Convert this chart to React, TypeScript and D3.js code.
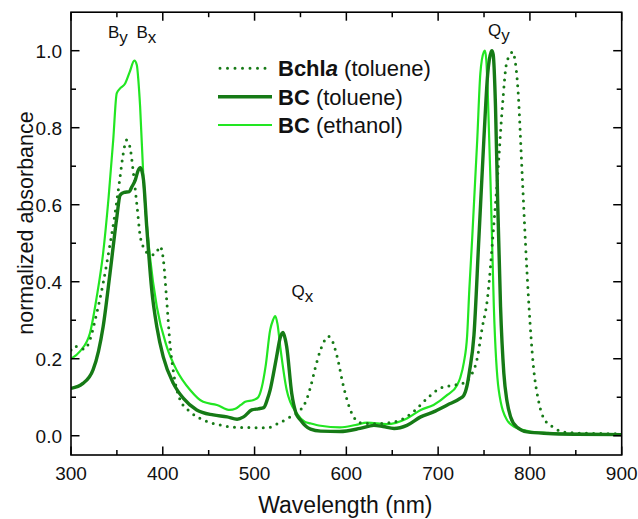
import React from "react";
import * as d3 from "d3";

// ---------- data ----------
const bchlaWl = [300, 304, 310, 315, 320, 328, 335, 342, 348, 353, 357, 360.5, 364, 368, 372, 375.5, 380, 385, 390, 394, 397, 400.5, 404, 408, 412, 419, 430, 444, 462, 480, 500, 515, 524, 539, 550, 556, 561, 566, 572, 577, 580.5, 584, 590, 597, 606, 615, 630, 644, 659, 673, 688, 702, 713, 728, 735, 742.5, 748, 753.5, 760.5, 765, 770, 774.5, 779, 781, 783, 787, 791.5, 795, 799, 803.5, 810, 819, 826, 834, 850, 870, 900];
const bchlaAbs = [0.223, 0.233, 0.226, 0.225, 0.245, 0.318, 0.396, 0.49, 0.578, 0.664, 0.734, 0.768, 0.752, 0.682, 0.595, 0.517, 0.485, 0.472, 0.47, 0.48, 0.492, 0.46, 0.36, 0.235, 0.16, 0.093, 0.062, 0.041, 0.028, 0.022, 0.021, 0.021, 0.03, 0.049, 0.067, 0.09, 0.127, 0.175, 0.224, 0.25, 0.258, 0.25, 0.205, 0.127, 0.058, 0.034, 0.031, 0.033, 0.041, 0.062, 0.097, 0.123, 0.13, 0.137, 0.153, 0.2, 0.28, 0.352, 0.543, 0.682, 0.855, 0.967, 0.991, 0.997, 0.985, 0.898, 0.682, 0.508, 0.335, 0.188, 0.084, 0.032, 0.022, 0.011, 0.007, 0.006, 0.005];

const bcTolWl = [300, 313, 324, 330, 335, 342.5, 350, 353.5, 358, 363.5, 366, 370, 373, 375.5, 377.5, 379, 382.5, 388, 393.5, 400.5, 411.5, 422.5, 437, 455, 470, 481, 488, 497, 504, 510, 514, 517, 520.5, 524, 528, 531, 533.5, 535, 540.5, 545, 550, 561, 572, 593, 615, 630, 640, 652, 666, 681, 695, 710, 724, 728, 731.5, 734, 739, 744.3, 749.8, 754, 757.8, 758.5, 760, 762.5, 765, 768, 771.6, 775, 779, 786, 797, 820, 850, 900];
const bcTolAbs = [0.123, 0.136, 0.171, 0.22, 0.283, 0.422, 0.569, 0.625, 0.632, 0.634, 0.645, 0.664, 0.688, 0.696, 0.685, 0.664, 0.543, 0.378, 0.283, 0.205, 0.136, 0.097, 0.067, 0.054, 0.049, 0.043, 0.049, 0.067, 0.07, 0.073, 0.095, 0.119, 0.16, 0.205, 0.255, 0.268, 0.25, 0.231, 0.11, 0.06, 0.041, 0.017, 0.012, 0.011, 0.019, 0.027, 0.024, 0.019, 0.027, 0.049, 0.062, 0.08, 0.097, 0.105, 0.13, 0.165, 0.26, 0.508, 0.768, 0.94, 0.997, 1.0, 0.99, 0.855, 0.595, 0.335, 0.162, 0.09, 0.049, 0.022, 0.01, 0.006, 0.004, 0.003];

const bcEthWl = [300, 310, 320.7, 328, 335, 341, 346, 349.8, 353.5, 359, 364, 369, 371.7, 373.5, 375.3, 379, 386, 393.5, 404.4, 415, 429.8, 444, 459, 473, 479, 485, 489.8, 499, 504, 508, 512, 517, 520, 522.5, 525, 528, 535, 546, 555, 561, 572, 593, 610, 622.5, 644, 666, 681, 695, 710, 720.8, 724, 728, 731.6, 734, 737, 742.6, 746, 749.8, 751, 752.5, 754, 757.8, 760.7, 766, 775, 784, 793, 810, 850, 900];
const bcEthAbs = [0.2, 0.22, 0.267, 0.36, 0.474, 0.62, 0.768, 0.889, 0.902, 0.915, 0.945, 0.974, 0.963, 0.92, 0.855, 0.664, 0.465, 0.335, 0.231, 0.171, 0.119, 0.088, 0.08, 0.067, 0.07, 0.08, 0.088, 0.093, 0.1, 0.127, 0.18, 0.275, 0.3, 0.311, 0.29, 0.231, 0.119, 0.058, 0.036, 0.032, 0.026, 0.022, 0.028, 0.034, 0.03, 0.045, 0.067, 0.08, 0.106, 0.132, 0.15, 0.19, 0.26, 0.38, 0.508, 0.768, 0.941, 0.997, 1.0, 0.975, 0.898, 0.595, 0.335, 0.119, 0.041, 0.022, 0.015, 0.008, 0.005, 0.004];

const xMajorTicks = [300, 400, 500, 600, 700, 800, 900];
const xMinorTicks = [350, 450, 550, 650, 750, 850];
const yMajorTicks = [0.0, 0.2, 0.4, 0.6, 0.8, 1.0];
const yMinorTicks = [0.1, 0.3, 0.5, 0.7, 0.9];

const seriesNames = ["Bchla (toluene)", "BC (toluene)", "BC (ethanol)"];

// ---------- layout ----------
const W = 638, H = 519;
const left = 71, right = 621.7, top = 12.2, bottom = 455;
const DARK = "#167a16";
const LIGHT = "#22e622";
const FONT = "Liberation Sans, Arial, sans-serif";

export default function App() {
  const x = d3.scaleLinear().domain([300, 900]).range([left, right]);
  const y = d3.scaleLinear().domain([-0.05, 1.1]).range([bottom, top]);
  const line = d3
    .line<[number, number]>()
    .x((d) => x(d[0]))
    .y((d) => y(d[1]))
    .curve(d3.curveMonotoneX);
  const zip = (a: number[], b: number[]) => a.map((v, i) => [v, b[i]] as [number, number]);

  const major = 8.5, minor = 5;
  const legendRows = [68.3, 96.7, 125];
  const lf = 22;

  return (
    <svg width={W} height={H} style={{ position: "absolute", left: 0, top: 0, background: "#fff" }} fontFamily={FONT}>
      <defs>
        <clipPath id="plot">
          <rect x={left} y={top} width={right - left} height={bottom - top} />
        </clipPath>
      </defs>
      <g clipPath="url(#plot)" fill="none">
        <path d={line(zip(bcEthWl, bcEthAbs)) || ""} stroke={LIGHT} strokeWidth={2.2} strokeLinejoin="round" />
        <path d={line(zip(bcTolWl, bcTolAbs)) || ""} stroke={DARK} strokeWidth={3.4} strokeLinejoin="round" />
        <path d={line(zip(bchlaWl, bchlaAbs)) || ""} stroke={DARK} strokeWidth={3} strokeDasharray="0 7.2" strokeLinecap="round" />
      </g>

      {/* frame */}
      <rect x={left} y={top} width={right - left} height={bottom - top} fill="none" stroke="#000" strokeWidth={1.6} />

      {/* x ticks */}
      {xMajorTicks.map((t) => (
        <g key={"xm" + t}>
          <line x1={x(t)} x2={x(t)} y1={bottom} y2={bottom - major} stroke="#000" strokeWidth={1.5} />
          <line x1={x(t)} x2={x(t)} y1={top} y2={top + major} stroke="#000" strokeWidth={1.5} />
          <text x={x(t)} y={480} textAnchor="middle" fontSize={19} fill="#111">{t}</text>
        </g>
      ))}
      {xMinorTicks.map((t) => (
        <g key={"xn" + t}>
          <line x1={x(t)} x2={x(t)} y1={bottom} y2={bottom - minor} stroke="#000" strokeWidth={1.5} />
          <line x1={x(t)} x2={x(t)} y1={top} y2={top + minor} stroke="#000" strokeWidth={1.5} />
        </g>
      ))}

      {/* y ticks */}
      {yMajorTicks.map((t) => (
        <g key={"ym" + t}>
          <line x1={left} x2={left + major} y1={y(t)} y2={y(t)} stroke="#000" strokeWidth={1.5} />
          <line x1={right} x2={right - major} y1={y(t)} y2={y(t)} stroke="#000" strokeWidth={1.5} />
          <text x={62} y={y(t) + 6.8} textAnchor="end" fontSize={19} fill="#111">{d3.format(".1f")(t)}</text>
        </g>
      ))}
      {yMinorTicks.map((t) => (
        <g key={"yn" + t}>
          <line x1={left} x2={left + minor} y1={y(t)} y2={y(t)} stroke="#000" strokeWidth={1.5} />
          <line x1={right} x2={right - minor} y1={y(t)} y2={y(t)} stroke="#000" strokeWidth={1.5} />
        </g>
      ))}

      {/* axis titles */}
      <text x={(left + right) / 2 - 1} y={513} textAnchor="middle" fontSize={23} fill="#111">Wavelength (nm)</text>
      <text transform={`translate(33,${223}) rotate(-90)`} textAnchor="middle" fontSize={21.5} fill="#111">normalized absorbance</text>

      {/* band annotations */}
      <text x={108} y={37.7} fontSize={17} fill="#111">
        B<tspan dy={5}>y</tspan>
      </text>
      <text x={136.5} y={37.7} fontSize={17} fill="#111">
        B<tspan dy={5}>x</tspan>
      </text>
      <text x={291.5} y={296.7} fontSize={17} fill="#111">
        Q<tspan dy={5}>x</tspan>
      </text>
      <text x={488} y={36} fontSize={17} fill="#111">
        Q<tspan dy={5}>y</tspan>
      </text>

      {/* legend */}
      <line x1={220} x2={272} y1={legendRows[0]} y2={legendRows[0]} stroke={DARK} strokeWidth={3} strokeDasharray="0 7.5" strokeLinecap="round" />
      <line x1={218} x2={272} y1={legendRows[1]} y2={legendRows[1]} stroke={DARK} strokeWidth={3.4} />
      <line x1={218} x2={272} y1={legendRows[2]} y2={legendRows[2]} stroke={LIGHT} strokeWidth={2.2} />
      <text x={278} y={legendRows[0] + 7.8} fontSize={lf} fill="#111">
        <tspan fontWeight="bold">Bchl</tspan><tspan fontWeight="bold" fontStyle="italic">a</tspan><tspan> (toluene)</tspan>
      </text>
      <text x={278} y={legendRows[1] + 7.8} fontSize={lf} fill="#111">
        <tspan fontWeight="bold">BC</tspan><tspan> (toluene)</tspan>
      </text>
      <text x={278} y={legendRows[2] + 7.8} fontSize={lf} fill="#111">
        <tspan fontWeight="bold">BC</tspan><tspan> (ethanol)</tspan>
      </text>
      <desc>{seriesNames.join(", ")}</desc>
    </svg>
  );
}
